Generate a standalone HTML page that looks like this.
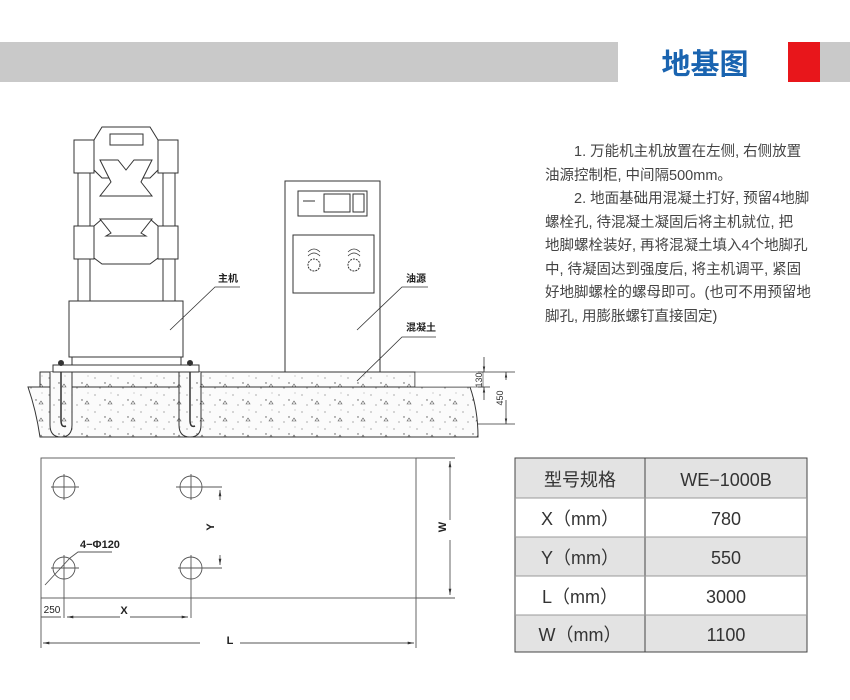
<!DOCTYPE html>
<html><head><meta charset="utf-8"><style>
html,body{margin:0;padding:0;background:#fff;width:850px;height:700px;overflow:hidden}
.t{position:absolute;left:545px;top:141px;width:300px;font-family:"Liberation Sans","Noto Sans CJK SC",sans-serif;font-size:14.5px;line-height:23.5px;color:#444;white-space:nowrap}
</style></head><body>
<svg width="850" height="700" style="position:absolute;left:0;top:0" font-family="Liberation Sans, Noto Sans CJK SC, sans-serif">
<defs>
<pattern id="dots" width="23" height="17" patternUnits="userSpaceOnUse">
<rect width="23" height="17" fill="#fbfbfb"/>
<circle cx="3" cy="4" r="0.6" fill="#777"/><circle cx="13" cy="9" r="0.7" fill="#555"/><circle cx="19" cy="2" r="0.5" fill="#888"/><circle cx="8" cy="14" r="0.6" fill="#777"/><path d="M16 13 l2 -3 l2 3z" fill="none" stroke="#555" stroke-width="0.6"/>
</pattern>
<marker id="a" markerWidth="8" markerHeight="6" refX="7" refY="3" orient="auto"><path d="M0 1.5L7 3L0 4.5z" fill="#333"/></marker>
</defs>
<rect x="0" y="42" width="618" height="40" fill="#c9c9c9"/>
<rect x="788" y="42" width="32" height="40" fill="#e8161b"/>
<rect x="820" y="42" width="30" height="40" fill="#c9c9c9"/>
<text x="705" y="74" font-size="29" fill="#1a64b0" text-anchor="middle" font-weight="bold">地基图</text>

<g stroke="#333" stroke-width="1" fill="#fff">
<path d="M28 387 H470 Q478 410 478 437 H40 Q36 410 28 387z" fill="url(#dots)"/>
<rect x="40" y="372" width="375" height="15" fill="url(#dots)"/>
<rect x="415" y="372" width="68" height="15" fill="#fff" stroke-width="0.6"/>
<path d="M50 372 V425 Q50 437 61 437 Q72 437 72 425 V372" fill="url(#dots)"/>
<path d="M179 372 V425 Q179 437 190 437 Q201 437 201 425 V372" fill="url(#dots)"/>
<path d="M61 363 V420 Q61 428 66 426 M190 363 V420 Q190 428 195 426" fill="none" stroke-width="1.5"/>
<rect x="53" y="365" width="146" height="7"/>
<rect x="72" y="357" width="109" height="8"/>
<rect x="69" y="301" width="114" height="56"/>
<rect x="78" y="173" width="12" height="128"/><rect x="163" y="173" width="12" height="128"/>
<path d="M94 140 L102 127 H150 L158 140 V170 L150 178 H102 L94 170z"/>
<rect x="110" y="134" width="33" height="11"/>
<path d="M100 160 H118 L126 170 L134 160 H152 L141 182 L152 196 H100 L111 182z" fill="#fff"/>
<rect x="74" y="140" width="20" height="33"/><rect x="158" y="140" width="20" height="33"/>
<path d="M94 226 L102 219 H150 L158 226 V258 L150 264 H102 L94 258z"/>
<path d="M100 219 H152 L141 233 L146 236 H106 L111 233z"/>
<rect x="74" y="226" width="20" height="33"/><rect x="158" y="226" width="20" height="33"/>
<rect x="285" y="181" width="95" height="191"/>
<rect x="298" y="191" width="69" height="25"/>
<rect x="324" y="194" width="26" height="18"/><rect x="353" y="194" width="11" height="18"/>
<line x1="303" y1="201" x2="315" y2="201"/>
<rect x="293" y="235" width="81" height="58"/>
<circle cx="314" cy="265" r="6" stroke-dasharray="2 1"/><circle cx="354" cy="265" r="6" stroke-dasharray="2 1"/>
<path d="M308 252 Q314 246 320 252 M308 256 Q314 250 320 256 M348 252 Q354 246 360 252 M348 256 Q354 250 360 256" fill="none" stroke-width="0.7"/>
</g>
<circle cx="61" cy="363" r="3" fill="#333"/><circle cx="190" cy="363" r="3" fill="#333"/>
<g stroke="#333" stroke-width="0.8" fill="none">
<path d="M170 330 L215 287 H240"/><text x="218" y="282" font-size="10" font-weight="bold" fill="#222" stroke="none">主机</text>
<path d="M357 330 L402 287 H428"/><text x="406" y="282" font-size="10" font-weight="bold" fill="#222" stroke="none">油源</text>
<path d="M357 381 L402 337 H436"/><text x="406" y="331" font-size="10" font-weight="bold" fill="#222" stroke="none">混凝土</text>
<line x1="478" y1="372" x2="515" y2="372"/><line x1="478" y1="387" x2="490" y2="387"/><line x1="478" y1="424" x2="515" y2="424"/>
<line x1="484" y1="357" x2="484" y2="372" marker-end="url(#a)"/><line x1="484" y1="400" x2="484" y2="387" marker-end="url(#a)"/>
<line x1="506" y1="380" x2="506" y2="372" marker-end="url(#a)"/><line x1="506" y1="400" x2="506" y2="424" marker-end="url(#a)"/>
</g>
<text transform="translate(482 380) rotate(-90)" font-size="9" fill="#333" text-anchor="middle">130</text>
<text transform="translate(503 398) rotate(-90)" font-size="9" fill="#333" text-anchor="middle">450</text>

<g stroke="#555" stroke-width="0.9" fill="none">
<rect x="41" y="458" width="375" height="140"/>
<circle cx="64" cy="487" r="11"/><circle cx="191" cy="487" r="11"/><circle cx="64" cy="568" r="11"/><circle cx="191" cy="568" r="11"/>
<path d="M51 487H79M64 474V500M176 487H204M191 474V500M51 568H79M178 568H204M191 555V618M64 555V618"/>
<path d="M202 487H222M202 568H222M416 458H455M416 598H455M41 598V648M416 598V648"/>
<line x1="220" y1="500" x2="220" y2="490" marker-end="url(#a)"/><line x1="220" y1="555" x2="220" y2="565" marker-end="url(#a)"/>
<line x1="450" y1="520" x2="450" y2="461" marker-end="url(#a)"/><line x1="450" y1="540" x2="450" y2="595" marker-end="url(#a)"/>
<line x1="120" y1="617" x2="67" y2="617" marker-end="url(#a)"/><line x1="130" y1="617" x2="188" y2="617" marker-end="url(#a)"/>
<line x1="41" y1="617" x2="61" y2="617"/>
<line x1="200" y1="643" x2="43" y2="643" marker-end="url(#a)"/><line x1="240" y1="643" x2="414" y2="643" marker-end="url(#a)"/>
<path d="M45 585 L70 558 L78 552 H112"/>
</g>
<text x="80" y="548" font-size="11" font-weight="bold" fill="#222">4−Φ120</text>
<text transform="translate(214 527) rotate(-90)" font-size="11" font-weight="bold" fill="#222" text-anchor="middle">Y</text>
<text transform="translate(446 527) rotate(-90)" font-size="11" font-weight="bold" fill="#222" text-anchor="middle">W</text>
<text x="124" y="614" font-size="11" font-weight="bold" fill="#222" text-anchor="middle">X</text>
<text x="230" y="644" font-size="11" font-weight="bold" fill="#222" text-anchor="middle">L</text>
<text x="52" y="613" font-size="10" fill="#222" text-anchor="middle">250</text>

<g font-size="18" fill="#333" text-anchor="middle">
<rect x="515" y="458" width="292" height="40" fill="#e3e3e3"/>
<rect x="515" y="537" width="292" height="39" fill="#e3e3e3"/>
<rect x="515" y="615" width="292" height="37" fill="#e3e3e3"/>
<g stroke="#444" stroke-width="1" fill="none"><rect x="515" y="458" width="292" height="194"/><line x1="645" y1="458" x2="645" y2="652"/>
<path d="M515 498H807M515 537H807M515 576H807M515 615H807" stroke="#999"/></g>
<text x="580" y="486">型号规格</text><text x="726" y="486">WE−1000B</text>
<text x="580" y="525">X（mm）</text><text x="726" y="525">780</text>
<text x="580" y="564">Y（mm）</text><text x="726" y="564">550</text>
<text x="580" y="603">L（mm）</text><text x="726" y="603">3000</text>
<text x="580" y="641">W（mm）</text><text x="726" y="641">1100</text>
</g>
</svg>
<div class="t">&emsp;&emsp;1. 万能机主机放置在左侧, 右侧放置<br>油源控制柜, 中间隔500mm。<br>&emsp;&emsp;2. 地面基础用混凝土打好, 预留4地脚<br>螺栓孔, 待混凝土凝固后将主机就位, 把<br>地脚螺栓装好, 再将混凝土填入4个地脚孔<br>中, 待凝固达到强度后, 将主机调平, 紧固<br>好地脚螺栓的螺母即可。(也可不用预留地<br>脚孔, 用膨胀螺钉直接固定)</div>
</body></html>
